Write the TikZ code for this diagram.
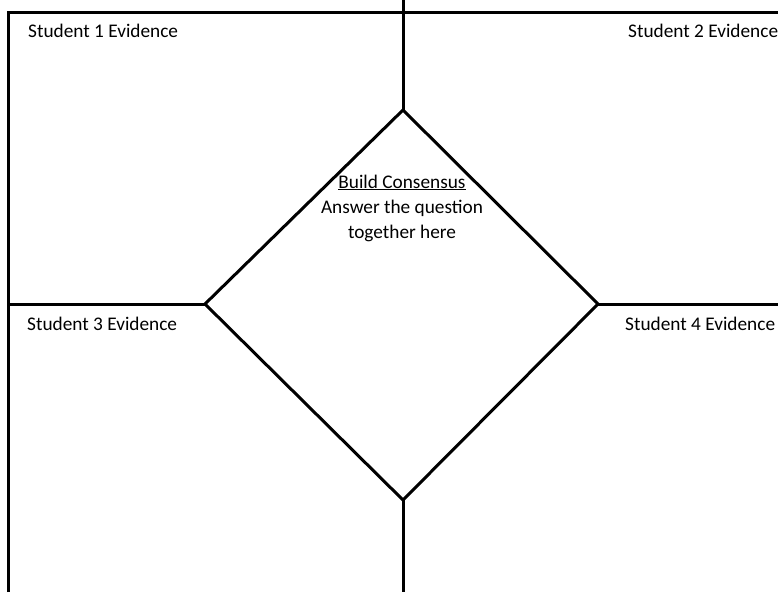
\documentclass[tikz,border=0pt]{standalone}
\usepackage{fontspec}
\setmainfont{Carlito}
\begin{document}
\begin{tikzpicture}[x=1pt,y=-1pt,
  frame/.style={line width=3pt,line cap=butt,line join=miter},
  label/.style={inner sep=0pt,font=\fontsize{19.3}{23}\selectfont},
]
\useasboundingbox (0,0) rectangle (778,592);
% key points
\coordinate (dtop) at (403,110);
\coordinate (dbot) at (403,500);
\coordinate (dleft) at (205,304);
\coordinate (dright) at (598,304);
\coordinate (topA) at (403,0);
\coordinate (botA) at (403,592);
\coordinate (leftA) at (8.5,304);
\coordinate (rightA) at (778,304);
\coordinate (cornerTL) at (8.5,12);
\coordinate (cornerTR) at (778,12);
\coordinate (cornerBL) at (8.5,592);
% outer frame (left and top)
\draw[frame] (cornerBL) -- (cornerTL) -- (cornerTR);
% cross arms
\draw[frame] (topA) -- (dtop);
\draw[frame] (dbot) -- (botA);
\draw[frame] (leftA) -- (dleft);
\draw[frame] (dright) -- (rightA);
% diamond
\draw[frame] (dtop) -- (dright) -- (dbot) -- (dleft) -- cycle;
% labels
\node[label,anchor=base west] (s1) at (28,37) {Student 1 Evidence};
\node[label,anchor=base west] (s2) at (628,37) {Student 2 Evidence};
\node[label,anchor=base west] (s3) at (27,330) {Student 3 Evidence};
\node[label,anchor=base west] (s4) at (625,330) {Student 4 Evidence};
\node[label,anchor=base] (c1) at (402,188) {\underline{Build Consensus}};
\node[label,anchor=base] (c2) at (402,213) {Answer the question};
\node[label,anchor=base] (c3) at (402,238) {together here};
\end{tikzpicture}
\end{document}
